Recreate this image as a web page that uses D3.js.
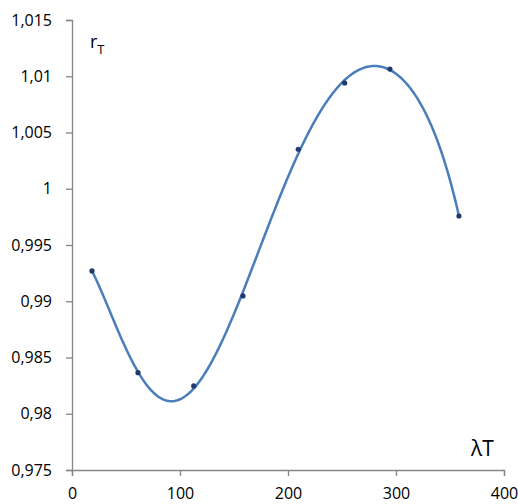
<!DOCTYPE html>
<html>
<head>
<meta charset="utf-8">
<script src="https://cdn.jsdelivr.net/npm/d3@7"></script>
<style>
  body { margin: 0; background: #fff; }
  text { font-family: "Open Sans", sans-serif; }
</style>
</head>
<body>
<script>
const svgWidth = 518
const svgHeight = 504

const margin = { top: 20, right: 14, bottom: 34, left: 72 }
const chartWidth = svgWidth - margin.left - margin.right
const chartHeight = svgHeight - margin.top - margin.bottom

// data
const lambdaT = [18.5, 61.1, 112.7, 158.3, 209.5, 252.5, 294.4, 358.3]
const rT = [0.9927, 0.98365, 0.98247, 0.99047, 1.00351, 1.0094, 1.01064, 0.99758]

const xTicks = [0, 100, 200, 300, 400]
const yTicks = [0.975, 0.98, 0.985, 0.99, 0.995, 1, 1.005, 1.01, 1.015]

const data = lambdaT.map((x, i) => ({ x: x, y: rT[i] }))

const locale = d3.formatLocale({ decimal: ",", thousands: " ", grouping: [3], currency: ["", ""] })
const fmt = locale.format(".3~f")

// least squares polynomial trendline (like the spreadsheet's)
const polyFit = (xs, ys, order) => {
  const n = order + 1
  const A = d3.range(n).map(() => new Array(n + 1).fill(0))
  xs.forEach((xv, k) => {
    const t = (xv - 200) / 200
    for (let i = 0; i < n; i++) {
      for (let j = 0; j < n; j++) A[i][j] += Math.pow(t, i + j)
      A[i][n] += Math.pow(t, i) * ys[k]
    }
  })
  for (let c = 0; c < n; c++) {
    let p = c
    for (let r = c + 1; r < n; r++) if (Math.abs(A[r][c]) > Math.abs(A[p][c])) p = r
    const tmp = A[c]; A[c] = A[p]; A[p] = tmp
    for (let r = 0; r < n; r++) {
      if (r === c) continue
      const f = A[r][c] / A[c][c]
      for (let j = c; j <= n; j++) A[r][j] -= f * A[c][j]
    }
  }
  const coef = A.map((row, i) => row[n] / row[i])
  return xv => {
    const t = (xv - 200) / 200
    return coef.reduce((s, c, i) => s + c * Math.pow(t, i), 0)
  }
}

const svg = d3.select("body").append("svg")
  .attr("width", svgWidth)
  .attr("height", svgHeight)

const chartG = svg.append("g")
  .attr("transform", `translate(${margin.left}, ${margin.top})`)

const x = d3.scaleLinear().domain([0, 400]).range([0, chartWidth])
const y = d3.scaleLinear().domain([0.975, 1.015]).range([chartHeight, 0])

chartG.append("g")
  .attr("transform", `translate(0, ${chartHeight})`)
  .call(d3.axisBottom(x).tickValues(xTicks).tickSize(6).tickSizeOuter(6).tickPadding(12))

chartG.append("g")
  .call(d3.axisLeft(y).tickValues(yTicks).tickFormat(fmt).tickSize(6).tickSizeOuter(6).tickPadding(14))

chartG.selectAll(".domain, .tick line").attr("stroke", "#868686").attr("stroke-width", 1.3)
chartG.selectAll(".tick text").attr("font-size", 16).attr("fill", "#000")

const trend = polyFit(lambdaT, rT, 6)
const ext = d3.extent(lambdaT)
const xs = d3.range(ext[0], ext[1] + 0.01, (ext[1] - ext[0]) / 200)

chartG.append("path")
  .datum(xs)
  .attr("fill", "none")
  .attr("stroke", "#4a7ebb")
  .attr("stroke-width", 2.5)
  .attr("stroke-linecap", "round")
  .attr("d", d3.line().x(d => x(d)).y(d => y(trend(d))))

chartG.selectAll("circle")
  .data(data)
  .enter()
  .append("circle")
  .attr("cx", d => x(d.x))
  .attr("cy", d => y(d.y))
  .attr("r", 2.6)
  .attr("fill", "#1f3a6e")

const rLabel = svg.append("text")
  .attr("x", 90)
  .attr("y", 48)
  .attr("font-size", 18)
rLabel.append("tspan").text("r")
rLabel.append("tspan").attr("font-size", 13).attr("dy", 6).text("T")

svg.append("text")
  .attr("x", 471)
  .attr("y", 456)
  .attr("font-size", 21)
  .text("λT")
</script>
</body>
</html>
